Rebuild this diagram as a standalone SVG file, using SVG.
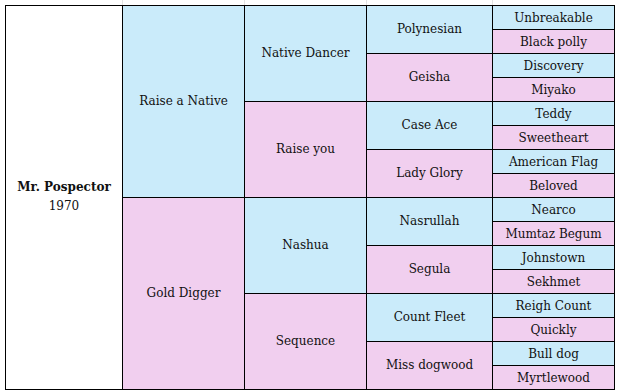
<svg xmlns="http://www.w3.org/2000/svg" width="617" height="392" viewBox="0 0 617 392">
<style>
.b{fill:#CAEBFA;stroke:#000;stroke-width:1}
.p{fill:#F1CFEF;stroke:#000;stroke-width:1}
.w{fill:#fff;stroke:#000;stroke-width:1}
text{font-family:"DejaVu Serif","Liberation Serif",serif;font-size:12px;fill:#111;text-anchor:middle;dominant-baseline:central}
.bold{font-weight:bold}
.g{stroke:#e2e2e2;stroke-width:1}
</style>
<rect width="617" height="392" fill="#fff"/>
<g id="gridlines">
<line class="g" x1="122.5" y1="0" x2="122.5" y2="5"/>
<line class="g" x1="244.5" y1="0" x2="244.5" y2="5"/>
<line class="g" x1="366.5" y1="0" x2="366.5" y2="5"/>
<line class="g" x1="492.5" y1="0" x2="492.5" y2="5"/>
</g>
<g id="n-mr-pospector"><rect class="w" x="5.5" y="5.5" width="117" height="384"/><text class="bold" x="64" y="187">Mr. Pospector</text><text x="64" y="206">1970</text></g>
<g id="n-raise-a-native"><rect class="b" x="122.5" y="5.5" width="122" height="192"/><text x="183.5" y="101">Raise a Native</text></g>
<g id="n-gold-digger"><rect class="p" x="122.5" y="197.5" width="122" height="192"/><text x="183.5" y="293">Gold Digger</text></g>
<g id="n-native-dancer"><rect class="b" x="244.5" y="5.5" width="122" height="96"/><text x="305.5" y="53">Native Dancer</text></g>
<g id="n-raise-you"><rect class="p" x="244.5" y="101.5" width="122" height="96"/><text x="305.5" y="149">Raise you</text></g>
<g id="n-nashua"><rect class="b" x="244.5" y="197.5" width="122" height="96"/><text x="305.5" y="245">Nashua</text></g>
<g id="n-sequence"><rect class="p" x="244.5" y="293.5" width="122" height="96"/><text x="305.5" y="341">Sequence</text></g>
<g id="n-polynesian"><rect class="b" x="366.5" y="5.5" width="126" height="48"/><text x="429.5" y="29">Polynesian</text></g>
<g id="n-geisha"><rect class="p" x="366.5" y="53.5" width="126" height="48"/><text x="429.5" y="77">Geisha</text></g>
<g id="n-case-ace"><rect class="b" x="366.5" y="101.5" width="126" height="48"/><text x="429.5" y="125">Case Ace</text></g>
<g id="n-lady-glory"><rect class="p" x="366.5" y="149.5" width="126" height="48"/><text x="429.5" y="173">Lady Glory</text></g>
<g id="n-nasrullah"><rect class="b" x="366.5" y="197.5" width="126" height="48"/><text x="429.5" y="221">Nasrullah</text></g>
<g id="n-segula"><rect class="p" x="366.5" y="245.5" width="126" height="48"/><text x="429.5" y="269">Segula</text></g>
<g id="n-count-fleet"><rect class="b" x="366.5" y="293.5" width="126" height="48"/><text x="429.5" y="317">Count Fleet</text></g>
<g id="n-miss-dogwood"><rect class="p" x="366.5" y="341.5" width="126" height="48"/><text x="429.5" y="365">Miss dogwood</text></g>
<g id="n-unbreakable"><rect class="b" x="492.5" y="5.5" width="122" height="24"/><text x="553.5" y="17.5">Unbreakable</text></g>
<g id="n-black-polly"><rect class="p" x="492.5" y="29.5" width="122" height="24"/><text x="553.5" y="41.5">Black polly</text></g>
<g id="n-discovery"><rect class="b" x="492.5" y="53.5" width="122" height="24"/><text x="553.5" y="65.5">Discovery</text></g>
<g id="n-miyako"><rect class="p" x="492.5" y="77.5" width="122" height="24"/><text x="553.5" y="89.5">Miyako</text></g>
<g id="n-teddy"><rect class="b" x="492.5" y="101.5" width="122" height="24"/><text x="553.5" y="113.5">Teddy</text></g>
<g id="n-sweetheart"><rect class="p" x="492.5" y="125.5" width="122" height="24"/><text x="553.5" y="137.5">Sweetheart</text></g>
<g id="n-american-flag"><rect class="b" x="492.5" y="149.5" width="122" height="24"/><text x="553.5" y="161.5">American Flag</text></g>
<g id="n-beloved"><rect class="p" x="492.5" y="173.5" width="122" height="24"/><text x="553.5" y="185.5">Beloved</text></g>
<g id="n-nearco"><rect class="b" x="492.5" y="197.5" width="122" height="24"/><text x="553.5" y="209.5">Nearco</text></g>
<g id="n-mumtaz-begum"><rect class="p" x="492.5" y="221.5" width="122" height="24"/><text x="553.5" y="233.5">Mumtaz Begum</text></g>
<g id="n-johnstown"><rect class="b" x="492.5" y="245.5" width="122" height="24"/><text x="553.5" y="257.5">Johnstown</text></g>
<g id="n-sekhmet"><rect class="p" x="492.5" y="269.5" width="122" height="24"/><text x="553.5" y="281.5">Sekhmet</text></g>
<g id="n-reigh-count"><rect class="b" x="492.5" y="293.5" width="122" height="24"/><text x="553.5" y="305.5">Reigh Count</text></g>
<g id="n-quickly"><rect class="p" x="492.5" y="317.5" width="122" height="24"/><text x="553.5" y="329.5">Quickly</text></g>
<g id="n-bull-dog"><rect class="b" x="492.5" y="341.5" width="122" height="24"/><text x="553.5" y="353.5">Bull dog</text></g>
<g id="n-myrtlewood"><rect class="p" x="492.5" y="365.5" width="122" height="24"/><text x="553.5" y="377.5">Myrtlewood</text></g>
<g id="connectors"></g>
</svg>
